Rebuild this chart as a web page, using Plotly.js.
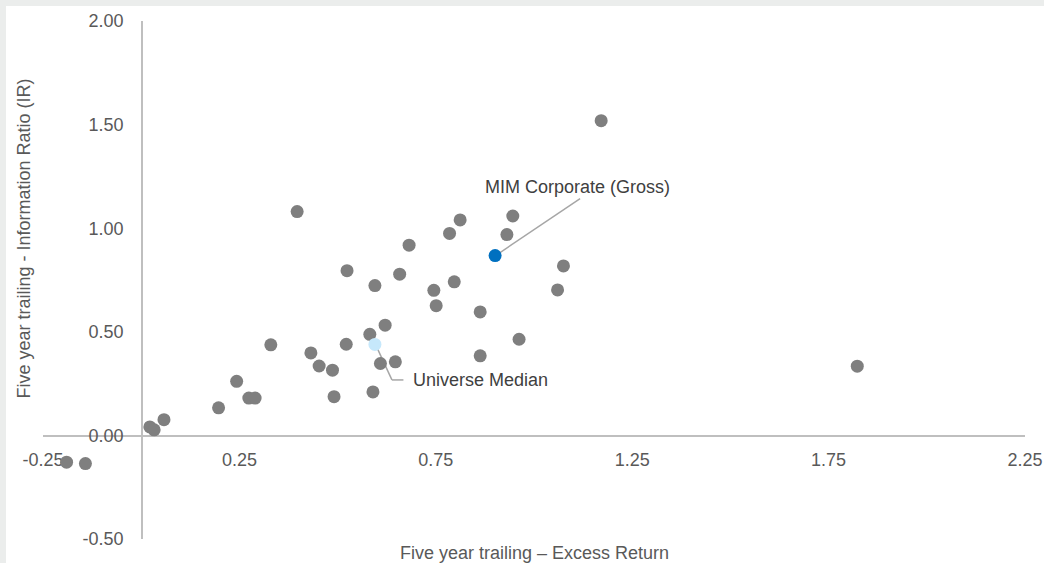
<!DOCTYPE html>
<html>
<head>
<meta charset="utf-8">
<script src="https://cdn.plot.ly/plotly-3.0.1.min.js"></script>
<style>
  html, body { margin: 0; padding: 0; background: #ebedec; width: 1044px; height: 563px; overflow: hidden; }
  #chart { position: absolute; left: 6px; top: 6px; width: 1038px; height: 557px; }
</style>
</head>
<body>
<div id="chart"></div>
<script>
// Universe of managers: five year trailing excess return vs information ratio
const universeExcessReturn = [
  -0.190, -0.142, 0.022, 0.033, 0.058, 0.197, 0.243, 0.274, 0.290, 0.330,
  0.397, 0.432, 0.453, 0.487, 0.491, 0.522, 0.524, 0.582, 0.590, 0.595,
  0.609, 0.621, 0.647, 0.658, 0.682, 0.745, 0.751, 0.785, 0.797, 0.812,
  0.863, 0.863, 0.931, 0.946, 0.962, 1.060, 1.075, 1.171, 1.823
];
const universeInfoRatio = [
  -0.129, -0.136, 0.041, 0.027, 0.076, 0.133, 0.261, 0.180, 0.180, 0.437,
  1.080, 0.398, 0.335, 0.315, 0.187, 0.440, 0.795, 0.488, 0.210, 0.723,
  0.347, 0.532, 0.355, 0.778, 0.918, 0.700, 0.626, 0.975, 0.741, 1.040,
  0.596, 0.384, 0.969, 1.059, 0.464, 0.702, 0.818, 1.519, 0.334
];
const medianLabel = "Universe Median";
const medianExcessReturn = [0.595];
const medianInfoRatio = [0.439];
const mimLabel = "MIM Corporate (Gross)";
const mimExcessReturn = [0.901];
const mimInfoRatio = [0.868];

const xTickValues = [-0.25, 0.25, 0.75, 1.25, 1.75, 2.25];
const xTickLabels = ["-0.25", "0.25", "0.75", "1.25", "1.75", "2.25"];
const yTickValues = [-0.5, 0, 0.5, 1.0, 1.5, 2.0];
const yTickLabels = ["-0.50", "0.00", "0.50", "1.00", "1.50", "2.00"];
const xTitle = "Five year trailing – Excess Return";
const yTitle = "Five year trailing - Information Ratio (IR)";

const FONT = "'Liberation Sans', Arial, sans-serif";
const AXIS_COLOR = "#bfbfbf";
const TICK_COLOR = "#595959";

const traces = [
  {
    type: "scatter", mode: "markers", name: "Universe",
    x: universeExcessReturn, y: universeInfoRatio,
    marker: { size: 13, color: "#7f7f7f" },
    hoverinfo: "x+y"
  },
  {
    type: "scatter", mode: "markers", name: medianLabel,
    x: medianExcessReturn, y: medianInfoRatio,
    marker: { size: 13, color: "#c6e8fb" }
  },
  {
    type: "scatter", mode: "markers", name: mimLabel,
    x: mimExcessReturn, y: mimInfoRatio,
    marker: { size: 13, color: "#0070c0" }
  }
];

const layout = {
  width: 1038, height: 557,
  margin: { l: 37, r: 19, t: 15, b: 24 },
  paper_bgcolor: "#ffffff",
  plot_bgcolor: "#ffffff",
  showlegend: false,
  font: { family: FONT, size: 18, color: TICK_COLOR },
  xaxis: {
    range: [-0.25, 2.25],
    tickvals: xTickValues, ticktext: xTickLabels,
    showgrid: false, zeroline: false,
    showline: true, linecolor: AXIS_COLOR, linewidth: 1.5,
    ticks: "", ticklabelstandoff: 7,
    anchor: "free", position: 0.2,
    layer: "below traces",
    tickfont: { family: FONT, size: 18, color: TICK_COLOR }
  },
  yaxis: {
    range: [-0.5, 2.0],
    tickvals: yTickValues, ticktext: yTickLabels,
    showgrid: false, zeroline: false,
    showline: true, linecolor: AXIS_COLOR, linewidth: 1.5,
    ticks: "", ticklabelstandoff: 14,
    anchor: "free", position: 0.1,
    layer: "below traces",
    tickfont: { family: FONT, size: 18, color: TICK_COLOR }
  },
  shapes: [
    { type: "line", xref: "x", yref: "y",
      xsizemode: "pixel", ysizemode: "pixel",
      xanchor: mimExcessReturn[0], yanchor: mimInfoRatio[0],
      x0: 2, y0: 1, x1: 85, y1: 57,
      line: { color: "#a6a6a6", width: 1.5 }, layer: "below" },
    { type: "line", xref: "x", yref: "y",
      xsizemode: "pixel", ysizemode: "pixel",
      xanchor: medianExcessReturn[0], yanchor: medianInfoRatio[0],
      x0: 1, y0: -1, x1: 17, y1: -35.5,
      line: { color: "#a6a6a6", width: 1.5 }, layer: "below" },
    { type: "line", xref: "x", yref: "y",
      xsizemode: "pixel", ysizemode: "pixel",
      xanchor: medianExcessReturn[0], yanchor: medianInfoRatio[0],
      x0: 17, y0: -35.5, x1: 28.5, y1: -35.5,
      line: { color: "#a6a6a6", width: 1.5 }, layer: "below" }
  ],
  annotations: [
    { text: mimLabel, x: mimExcessReturn[0], y: mimInfoRatio[0], xref: "x", yref: "y",
      showarrow: false, xanchor: "center", yanchor: "middle", xshift: 82, yshift: 69,
      font: { family: FONT, size: 18, color: "#404040" } },
    { text: medianLabel, x: medianExcessReturn[0], y: medianInfoRatio[0], xref: "x", yref: "y",
      showarrow: false, xanchor: "left", yanchor: "middle", xshift: 36, yshift: -36,
      font: { family: FONT, size: 18, color: "#404040" } },
    { text: xTitle, xref: "paper", yref: "paper", x: 0.5, y: -0.027,
      showarrow: false, xanchor: "center", yanchor: "middle",
      font: { family: FONT, size: 18, color: TICK_COLOR } },
    { text: yTitle, xref: "paper", yref: "paper", x: -0.0195, y: 0.5796,
      showarrow: false, xanchor: "center", yanchor: "middle", textangle: -90,
      font: { family: FONT, size: 18, color: TICK_COLOR } }
  ]
};

Plotly.newPlot("chart", traces, layout, { displayModeBar: false, staticPlot: true });
</script>
</body>
</html>
